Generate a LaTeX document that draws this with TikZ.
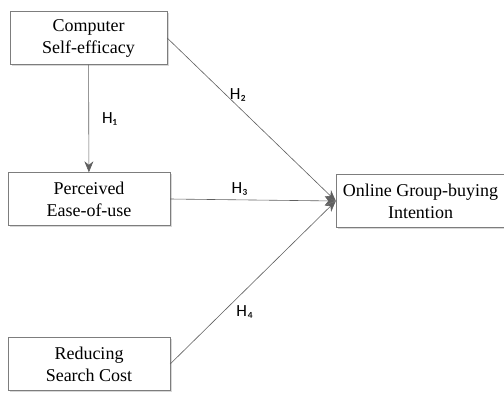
\documentclass[tikz,border=0pt]{standalone}
\usepackage{fontspec}
\setmainfont{Liberation Serif}
\newfontfamily\hfont{Carlito}
\usetikzlibrary{arrows.meta, shadows}
\definecolor{boxgray}{RGB}{125,125,125}
\definecolor{linegray}{RGB}{95,95,95}

\begin{document}
\begin{tikzpicture}[x=1pt, y=-1pt]
      \tikzset{construct/.style={draw=boxgray, fill=white, align=center, inner sep=0pt, minimum height=53pt, font=\fontsize{18}{22}\selectfont, drop shadow={shadow xshift=1.5pt, shadow yshift=-1.5pt, fill=black!30, opacity=0.5}}, hyp/.style={font=\hfont\fontsize{17}{20}\selectfont, inner sep=1pt}, every edge/.style={draw=linegray, -{Stealth[length=11pt, width=9pt]}, line width=0.6pt}}
      \clip (0,0) rectangle (504,392);
      \node[construct, minimum width=157pt] (cse) at (88.5,38) {Computer\\Self-efficacy};
      \node[construct, minimum width=162pt] (pe) at (89,199) {Perceived\\Ease-of-use};
      \node[construct, minimum width=162pt] (rsc) at (89,364) {Reducing\\Search Cost};
      \node[construct, minimum width=169pt] (ogi) at (420.5,201) {Online Group-buying\\Intention};
      \draw (cse) edge[] node[hyp, right=12pt] {H₁} (pe);
      \draw (cse.east) edge[] node[hyp, pos=0.42, above=4pt] {H₂} (ogi.west);
      \draw (pe.east) edge[] node[hyp, pos=0.42, above=3pt] {H₃} (ogi.west);
      \draw (rsc.east) edge[] node[hyp, pos=0.38, below right=2pt] {H₄} (ogi.west);
    \end{tikzpicture}
\end{document}
